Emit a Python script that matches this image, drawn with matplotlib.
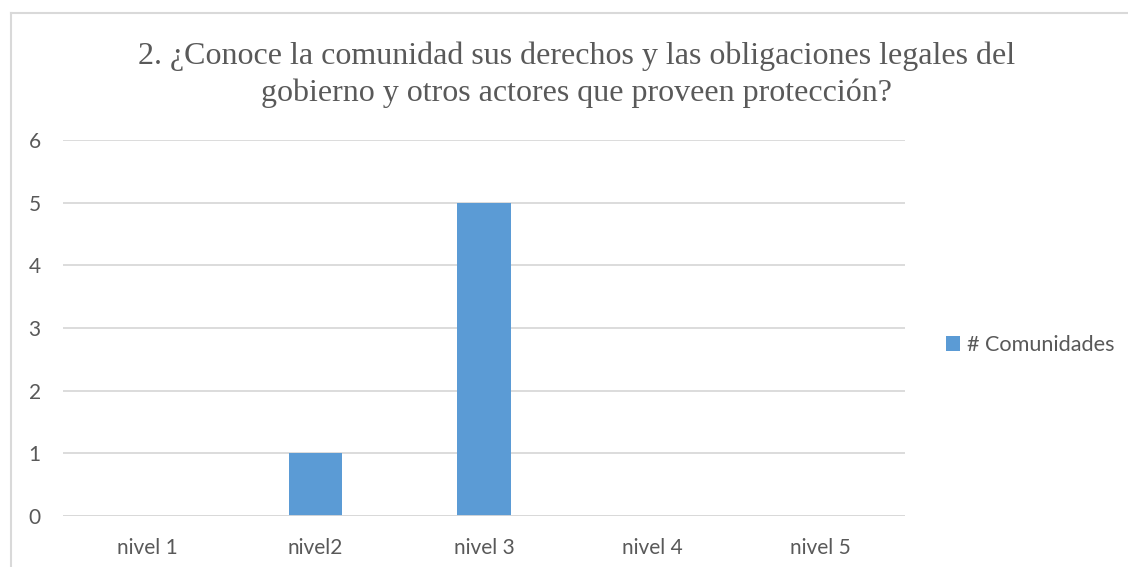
import matplotlib
matplotlib.use("Agg")
import matplotlib.pyplot as plt
from matplotlib.lines import Line2D

categories = ["nivel 1", "nivel2", "nivel 3", "nivel 4", "nivel 5"]
values = [0, 1, 5, 0, 0]
series_name = "# Comunidades"
title = "2. ¿Conoce la comunidad sus derechos y las obligaciones legales del\ngobierno y otros actores que proveen protección?"
yticks = [0, 1, 2, 3, 4, 5, 6]

W, H = 1128, 567
fig = plt.figure(figsize=(W / 100, H / 100), dpi=100)
ax = fig.add_axes([63 / W, 1 - 516 / H, (905 - 63) / W, (516 - 140) / H])

text_color = "#595959"
grid_color = "#D9D9D9"
bar_color = "#5B9BD5"
font = ["Lato", "DejaVu Sans"]

x = list(range(len(categories)))
ax.bar(x, values, width=0.315, color=bar_color, label=series_name, zorder=3)
ax.set_xlim(-0.5, len(categories) - 0.5)
ax.set_ylim(0, 6)
ax.set_yticks(yticks)
ax.set_yticklabels([str(t) for t in yticks], fontsize=15, color=text_color, family=font)
ax.set_xticks(x)
ax.set_xticklabels(categories, fontsize=15, color=text_color, family=font)
ax.tick_params(axis="both", length=0)
ax.tick_params(axis="y", pad=16)
ax.tick_params(axis="x", pad=16)
ax.grid(axis="y", color=grid_color, linewidth=1.3, zorder=0)
for s in ax.spines.values():
    s.set_visible(False)
ax.axhline(0, color=grid_color, linewidth=1.3, zorder=4)

fig.text(577 / W, 1 - 75 / H, title, ha="center", va="center", fontsize=23,
         color=text_color, family=["Liberation Serif", "DejaVu Serif"], linespacing=1.33)

leg = fig.legend(loc="center left", bbox_to_anchor=(946 / W, 1 - 345 / H), frameon=False,
                 prop={"family": font, "size": 15.6}, handlelength=0.65, handleheight=0.65,
                 handletextpad=0.3, borderaxespad=0, borderpad=0)
for t in leg.get_texts():
    t.set_color(text_color)

fig.add_artist(Line2D([11 / W, 1.0], [1 - 13 / H, 1 - 13 / H], color="#D9D9D9", linewidth=1.5))
fig.add_artist(Line2D([11 / W, 11 / W], [1 - 13 / H, 0.0], color="#D9D9D9", linewidth=1.5))

fig.savefig("out.png", dpi=100)
